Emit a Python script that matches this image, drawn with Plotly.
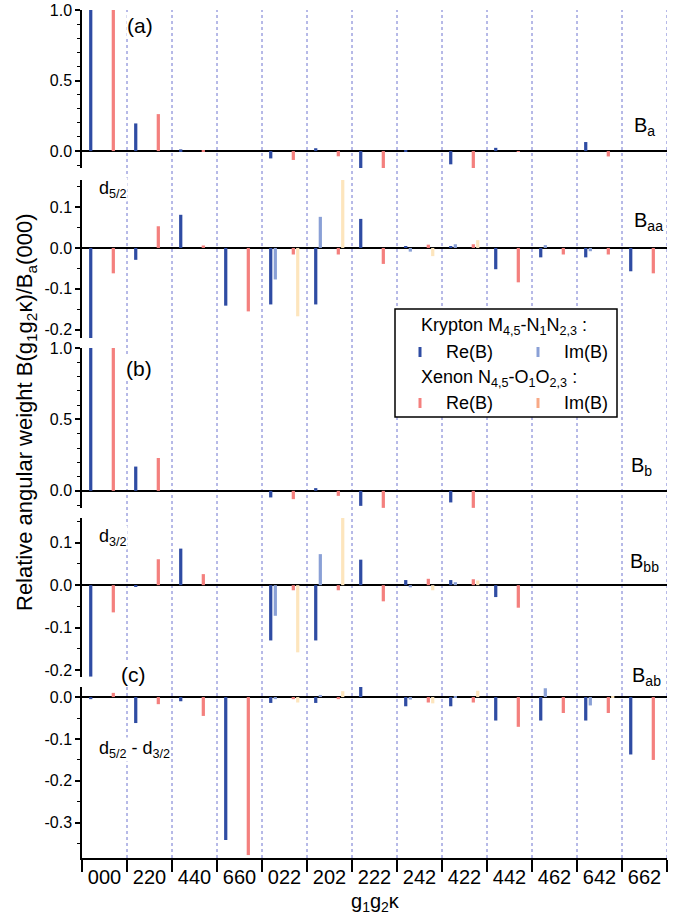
import plotly.graph_objects as go

cats = ["000", "220", "440", "660", "022", "202", "222", "242", "422", "442", "462", "642", "662"]

# Panel (a): B_a  (d5/2)
a_kr_re = [1.0, 0.196, 0.012, 0.0, -0.052, 0.02, -0.12, 0.004, -0.094, 0.023, 0.0, 0.064, 0.0]
a_kr_im = [0, 0, 0, 0, 0, 0, 0, 0, 0, 0, 0, 0, 0]
a_xe_re = [1.0, 0.262, 0.002, 0.0, -0.063, -0.037, -0.135, 0.0, -0.135, -0.005, 0.0, -0.038, 0.0]
a_xe_im = [0, 0, 0, 0, 0, 0, 0, 0, 0, 0, 0, 0, 0]

# Panel B_aa
aa_kr_re = [-0.22, -0.029, 0.081, -0.141, -0.138, -0.138, 0.071, 0.003, 0.003, -0.052, -0.023, -0.023, -0.057]
aa_kr_im = [0, 0, 0, 0, -0.077, 0.076, 0, -0.009, 0.009, 0, 0.007, -0.008, 0]
aa_xe_re = [-0.062, 0.053, 0.006, -0.155, -0.016, -0.016, -0.039, 0.008, 0.009, -0.084, -0.016, -0.016, -0.062]
aa_xe_im = [0, 0, 0, 0, -0.167, 0.166, 0, -0.02, 0.019, 0, 0, 0, 0]

# Panel (b): B_b  (d3/2)
b_kr_re = [1.0, 0.17, 0, 0, -0.046, 0.019, -0.105, 0, -0.081, 0, 0, 0, 0]
b_kr_im = [0, 0, 0, 0, 0, 0, 0, 0, 0, 0, 0, 0, 0]
b_xe_re = [1.0, 0.23, 0, 0, -0.058, -0.035, -0.119, 0, -0.119, 0, 0, 0, 0]
b_xe_im = [0, 0, 0, 0, 0, 0, 0, 0, 0, 0, 0, 0, 0]

# Panel B_bb
bb_kr_re = [-0.215, -0.003, 0.086, 0, -0.13, -0.13, 0.06, 0.012, 0.012, -0.028, 0, 0, 0]
bb_kr_im = [0, 0, 0, 0, -0.072, 0.073, 0, -0.005, 0.007, 0, 0, 0, 0]
bb_xe_re = [-0.064, 0.061, 0.026, 0, -0.012, -0.012, -0.038, 0.015, 0.014, -0.053, 0, 0, 0]
bb_xe_im = [0, 0, 0, 0, -0.158, 0.159, 0, -0.012, 0.011, 0, 0, 0, 0]

# Panel (c): B_ab  (d5/2 - d3/2)
c_kr_re = [-0.005, -0.062, -0.01, -0.341, -0.014, -0.014, 0.025, -0.022, -0.022, -0.056, -0.056, -0.056, -0.137]
c_kr_im = [0, 0, 0, 0, -0.005, 0.005, 0, -0.006, 0.001, 0, 0.021, -0.02, 0]
c_xe_re = [0.01, -0.017, -0.045, -0.377, -0.005, -0.005, 0, -0.013, -0.013, -0.071, -0.038, -0.038, -0.15]
c_xe_im = [0, 0, 0, 0, -0.013, 0.014, 0, -0.015, 0.015, 0, 0, 0.002, 0]

panels = [
    (a_kr_re, a_kr_im, a_xe_re, a_xe_im),
    (aa_kr_re, aa_kr_im, aa_xe_re, aa_xe_im),
    (b_kr_re, b_kr_im, b_xe_re, b_xe_im),
    (bb_kr_re, bb_kr_im, bb_xe_re, bb_xe_im),
    (c_kr_re, c_kr_im, c_xe_re, c_xe_im),
]

COL_KR_RE = "#2f4ca3"
COL_KR_IM = "#8aa0d6"
COL_XE_RE = "#f4807e"
COL_XE_IM = "#fde5bd"
COL_XE_IM_LEG = "#f8a986"
series_cols = [COL_KR_RE, COL_KR_IM, COL_XE_RE, COL_XE_IM]
series_off = [-0.342, -0.24, 0.16, 0.258]
BW = 0.072

W, H = 693, 921
ML, MR, MT, MB = 82, 26, 10, 63
PW = W - ML - MR
PH = H - MT - MB

def px_x(px):
    return (px - ML) / PW

def px_y(py):
    return (H - MB - py) / PH

FONT = "Liberation Sans, Arial, Helvetica, sans-serif"

fig = go.Figure()
for i, pdata in enumerate(panels):
    yname = "y" if i == 0 else f"y{i+1}"
    for s, vals in enumerate(pdata):
        fig.add_trace(go.Bar(
            x=cats, y=vals, xaxis="x", yaxis=yname,
            offset=series_off[s], width=BW,
            marker=dict(color=series_cols[s], line=dict(width=0)),
            showlegend=False, hoverinfo="x+y",
        ))

# panel pixel extents (top, bottom) and ranges
panel_px = [(10, 168), (180, 338), (348, 508), (518, 677), (687, 858)]
ranges = [[-0.12, 1.0], [-0.22, 0.166], [-0.12, 1.0], [-0.216, 0.158], [-0.384, 0.024]]
tickvals_list = [
    [0, 0.5, 1.0], [-0.2, -0.1, 0, 0.1], [0, 0.5, 1.0], [-0.2, -0.1, 0, 0.1], [-0.3, -0.2, -0.1, 0]
]
ticktext_list = [
    ["0.0", "0.5", "1.0"], ["-0.2", "-0.1", "0.0", "0.1"], ["0.0", "0.5", "1.0"],
    ["-0.2", "-0.1", "0.0", "0.1"], ["-0.3", "-0.2", "-0.1", "0.0"]
]
minor_dt = [0.1, 0.05, 0.1, 0.05, 0.05]

layout = dict(
    width=W, height=H,
    margin=dict(l=ML, r=MR, t=MT, b=MB, autoexpand=False),
    paper_bgcolor="white", plot_bgcolor="white",
    barmode="overlay",
    font=dict(family=FONT, color="black"),
    showlegend=False,
    xaxis=dict(
        type="category", categoryorder="array", categoryarray=cats,
        range=[-0.5, 12.5], anchor="y5", domain=[0, 1], automargin=False,
        showline=True, linecolor="black", linewidth=1.5,
        ticks="outside", tickson="boundaries", ticklen=12, tickwidth=1.5, tickcolor="black",
        showgrid=False, zeroline=False, ticklabeloverflow="allow",
        tickfont=dict(size=20, family=FONT),
    ),
)
for i in range(5):
    key = "yaxis" if i == 0 else f"yaxis{i+1}"
    top, bot = panel_px[i]
    layout[key] = dict(
        domain=[max(0, px_y(bot)), min(1, px_y(top))], anchor="x", range=ranges[i], automargin=False,
        showline=True, linecolor="black", linewidth=1.5,
        ticks="outside", ticklen=5, tickwidth=1.5, tickcolor="black",
        tickmode="array", tickvals=tickvals_list[i], ticktext=ticktext_list[i],
        ticklabeloverflow="allow",
        minor=dict(ticks="outside", ticklen=3, tickwidth=1, tickcolor="black",
                   tickmode="linear", tick0=0, dtick=minor_dt[i], showgrid=False),
        showgrid=False, zeroline=True, zerolinecolor="black", zerolinewidth=1.5,
        tickfont=dict(size=16, family=FONT),
    )
fig.update_layout(**layout)

shapes = []
# dotted category separators
for k in range(1, len(cats) + 1):
    shapes.append(dict(type="line", xref="x", yref="paper", x0=k - 0.5, x1=k - 0.5,
                       y0=0, y1=1, line=dict(color="#6f74d0", width=1, dash="dot"), layer="below"))

# legend box
shapes.append(dict(type="rect", xref="paper", yref="paper",
                   x0=px_x(395), x1=px_x(617), y0=px_y(417), y1=px_y(309),
                   fillcolor="white", line=dict(color="black", width=1.5), layer="above"))
leg_marks = [(420, 352, COL_KR_RE), (538, 352, COL_KR_IM), (420, 403, COL_XE_RE), (538, 403, COL_XE_IM_LEG)]
for (mx, my, mc) in leg_marks:
    shapes.append(dict(type="rect", xref="paper", yref="paper",
                       x0=px_x(mx - 1.5), x1=px_x(mx + 1.5), y0=px_y(my + 5), y1=px_y(my - 5),
                       fillcolor=mc, line=dict(width=0), layer="above"))
fig.update_layout(shapes=shapes)

ann = []
def add_text(text, x, y, size, xanchor="left", bg=None, **kw):
    d = dict(text=text, xref="paper", yref="paper", x=px_x(x), y=px_y(y),
             xanchor=xanchor, yanchor="middle", showarrow=False,
             font=dict(size=size, family=FONT, color="black"))
    if bg:
        d["bgcolor"] = bg
        d["borderpad"] = 0
    d.update(kw)
    ann.append(d)

# legend text
add_text("Krypton M<sub>4,5</sub>-N<sub>1</sub>N<sub>2,3</sub> :", 419, 326, 18)
add_text("Re(B)", 444, 352, 18)
add_text("Im(B)", 562, 352, 18)
add_text("Xenon N<sub>4,5</sub>-O<sub>1</sub>O<sub>2,3</sub> :", 419, 378, 18)
add_text("Re(B)", 444, 403, 18)
add_text("Im(B)", 562, 403, 18)

# panel labels
add_text("(a)", 126, 26, 21, bg="white")
add_text("d<sub>5/2</sub>", 98, 189, 18, bg="white")
add_text("(b)", 125, 369, 21, bg="white")
add_text("d<sub>3/2</sub>", 98, 537, 18, bg="white")
add_text("(c)", 120, 674, 21, bg="white")
add_text("d<sub>5/2</sub> - d<sub>3/2</sub>", 98, 749, 18, bg="white")

# right-side labels
add_text("B<sub>a</sub>", 632, 127, 20)
add_text("B<sub>aa</sub>", 632, 221, 20)
add_text("B<sub>b</sub>", 629, 467, 20)
add_text("B<sub>bb</sub>", 628, 562, 20)
add_text("B<sub>ab</sub>", 630, 676, 20)

# axis titles
add_text("Relative angular weight B(g<sub>1</sub>g<sub>2</sub>κ)/B<sub>a</sub>(000)", 26, 413, 22,
         xanchor="center", textangle=-90)
add_text("g<sub>1</sub>g<sub>2</sub>κ", 375, 903, 20, xanchor="center")

fig.update_layout(annotations=ann)

# remove the default page margin so the figure sits at the window origin
fig.write_html("out.html", config={"displayModeBar": False},
               post_script="document.body.style.margin='0px';")
